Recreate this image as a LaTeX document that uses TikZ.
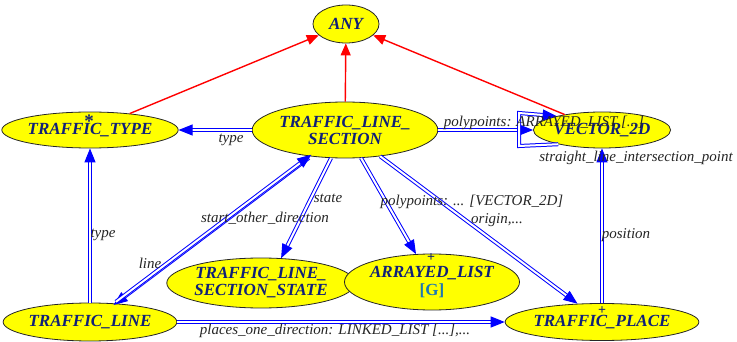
\documentclass[tikz,border=0pt]{standalone}
\usepackage{fontspec}
\setmainfont{Liberation Serif}
\usetikzlibrary{shapes.geometric,arrows.meta}
\definecolor{clsfill}{RGB}{255,255,0}
\definecolor{clstext}{RGB}{16,32,120}
\definecolor{gencol}{RGB}{30,120,180}
\definecolor{relblue}{RGB}{0,0,255}
\definecolor{inhred}{RGB}{255,0,0}
\begin{document}
\begin{tikzpicture}[x=1pt,y=-1pt,
  cls/.style={ellipse, draw=black!85, line width=0.8pt, fill=clsfill, inner sep=0pt,
    align=center, text=clstext, font=\fontsize{17}{17}\selectfont\bfseries\itshape},
  inherit/.style={draw=inhred, line width=1.4pt, -{Triangle[length=12pt,width=10pt]}},
  client/.style={draw=relblue, line width=1pt, double=white, double distance=2pt,
    -{Triangle[length=14pt,width=11pt]}},
  lbl/.style={font=\fontsize{15}{15}\selectfont\itshape, text=black!85, inner sep=0pt},
  clsmark/.style={font=\fontsize{14}{14}\selectfont\bfseries, text=clstext, inner sep=0pt}]
\useasboundingbox[fill=white] (0,0) rectangle (737,342);

% classes
\node[cls, minimum width=66pt, minimum height=38pt] (any) at (346,24) {ANY};
\node[cls, minimum width=160pt, minimum height=36pt] (ttype) at (90,130) {TRAFFIC\_TYPE};
\node[cls, minimum width=164pt, minimum height=56pt] (tls) at (345,130) {TRAFFIC\_LINE\_\\SECTION};
\node[cls, minimum width=131pt, minimum height=36pt] (vec) at (602,130) {VECTOR\_2D};
\node[cls, minimum width=160pt, minimum height=38pt] (tline) at (90,322) {TRAFFIC\_LINE};
\node[cls, minimum width=172pt, minimum height=50pt] (tlss) at (261,283) {TRAFFIC\_LINE\_\\SECTION\_STATE};
\node[cls, minimum width=160pt, minimum height=56pt] (alist) at (432,282)
  {ARRAYED\_LIST\\[1pt]{\upshape\color{gencol}[G]}};
\node[cls, minimum width=170pt, minimum height=37pt] (tplace) at (602,322) {TRAFFIC\_PLACE};

% class markers (deferred / effective)
\node[clsmark, font=\fontsize{19}{19}\selectfont\bfseries] (ttypemark) at (89,121) {*};
\node[clsmark] (alistmark) at (431,258) {+};
\node[clsmark] (tplacemark) at (602,311) {+};

% inheritance
\draw[inherit] (ttype) -- (any);
\draw[inherit] (tls) -- (any);
\draw[inherit] (vec) -- (any);

% client relations
\draw[client] (tls) -- (ttype);
\draw[client] (tls) -- (vec);
\coordinate (loopa) at (519,146);
\coordinate (loopb) at (519,113);
\draw[client] (vec.198) -- (loopa) -- (loopb) -- (vec.163);
\draw[client] (tls) -- (tlss.51);
\draw[client] (tls) -- (alist);
\draw[client] (tls) -- (tplace);
\draw[client, transform canvas={xshift=-1.2pt, yshift=-1.6pt}] (tls) -- (tline);
\draw[client, transform canvas={xshift=1.2pt, yshift=1.6pt}] (tline) -- (tls);
\draw[client] (tline) -- (ttype);
\draw[client] (tline) -- (tplace);
\draw[client] (tplace) -- (vec);

% labels
\node[lbl] (l1) at (231,140) {type};
\node[lbl] (l2) at (544,123) {polypoints: ARRAYED\_LIST [...]};
\node[lbl] (l3) at (636,158) {straight\_line\_intersection\_point};
\node[lbl] (l4) at (328,198) {state};
\node[lbl] (l5) at (265,218) {start\_other\_direction};
\node[lbl] (l6) at (150,263) {line};
\node[lbl] (l7) at (472,202) {polypoints: ... [VECTOR\_2D]};
\node[lbl] (l8) at (497,220) {origin,...};
\node[lbl] (l9) at (103,235) {type};
\node[lbl] (l10) at (626,235) {position};
\node[lbl] (l11) at (335,331) {places\_one\_direction: LINKED\_LIST [...],...};
\end{tikzpicture}
\end{document}
